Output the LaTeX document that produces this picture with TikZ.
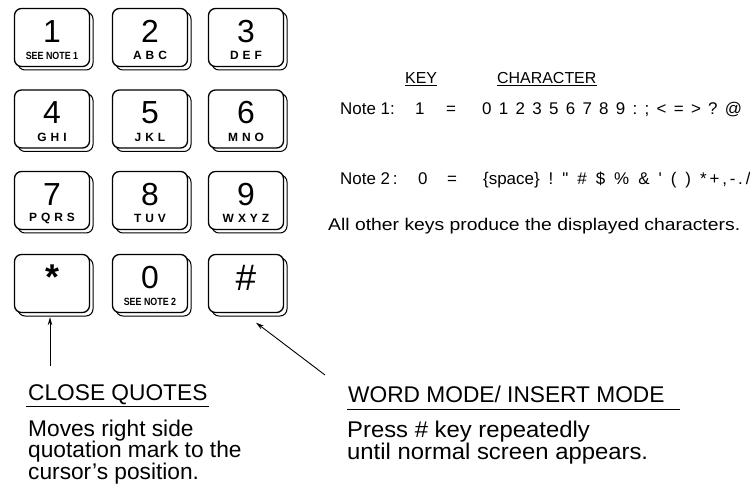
\documentclass[tikz,border=0pt]{standalone}
\usepackage{fontspec}
\setmainfont{Liberation Sans}
\usetikzlibrary{shadows,calc,arrows.meta}
\newcommand\fsz[1]{\fontsize{#1}{#1}\selectfont}
\newcommand\lsp{\hspace{4bp}}
\newcommand\csp{\hspace{7.3bp}}
\newcommand\dsp{\hspace{9bp}}
\begin{document}
\begin{tikzpicture}[x=1bp,y=-1bp,
  key/.style={draw, fill=white, rounded corners=7bp, minimum width=75bp,
    minimum height=58bp, line width=1.3bp, inner sep=0pt,
    general shadow={shadow xshift=3.5bp, shadow yshift=-3.5bp, draw, fill=white, line width=1bp}},
  digit/.style={font=\fsz{32}, inner sep=0pt},
  sub/.style={font=\fsz{12}\bfseries, inner sep=0pt},
  note/.style={font=\fsz{10.5}\bfseries, inner sep=0pt},
  txt/.style={anchor=base west, inner sep=0pt, font=\fsz{22.8}},
  small/.style={anchor=base west, inner sep=0pt, font=\fsz{17}},
  hdr/.style={anchor=base west, inner sep=0pt, font=\fsz{16}},
  arr/.style={line width=0.9bp, -{Stealth[length=8bp,width=4.5bp]}},
  uline/.style={line width=1bp}]
\useasboundingbox (0,0) rectangle (750,487);

% keypad
\node[key] (k1) at (52,37.5) {};
\node[digit] (d1) at ($(k1.center)+(0,-6)$) {1};
\node[note] (s1) at ($(k1.center)+(0,18)$) {\scalebox{0.85}[1]{SEE NOTE 1}};

\node[key] (k2) at (150,37.5) {};
\node[digit] (d2) at ($(k2.center)+(0,-6)$) {2};
\node[sub] (s2) at ($(k2.center)+(0,18)$) {A\lsp B\lsp C};

\node[key] (k3) at (246,37.5) {};
\node[digit] (d3) at ($(k3.center)+(0,-6)$) {3};
\node[sub] (s3) at ($(k3.center)+(0,18)$) {D\lsp E\lsp F};

\node[key] (k4) at (52,119) {};
\node[digit] (d4) at ($(k4.center)+(0,-6)$) {4};
\node[sub] (s4) at ($(k4.center)+(0,18)$) {G\lsp H\lsp I};

\node[key] (k5) at (150,119) {};
\node[digit] (d5) at ($(k5.center)+(0,-6)$) {5};
\node[sub] (s5) at ($(k5.center)+(0,18)$) {J\lsp K\lsp L};

\node[key] (k6) at (246,119) {};
\node[digit] (d6) at ($(k6.center)+(0,-6)$) {6};
\node[sub] (s6) at ($(k6.center)+(0,18)$) {M\lsp N\lsp O};

\node[key] (k7) at (52,200.5) {};
\node[digit] (d7) at ($(k7.center)+(0,-6)$) {7};
\node[sub] (s7) at ($(k7.center)+(0,18)$) {P\lsp Q\lsp R\lsp S};

\node[key] (k8) at (150,200.5) {};
\node[digit] (d8) at ($(k8.center)+(0,-6)$) {8};
\node[sub] (s8) at ($(k8.center)+(0,18)$) {T\lsp U\lsp V};

\node[key] (k9) at (246,200.5) {};
\node[digit] (d9) at ($(k9.center)+(0,-6)$) {9};
\node[sub] (s9) at ($(k9.center)+(0,18)$) {W\lsp X\lsp Y\lsp Z};

\node[key] (kstar) at (52,283.5) {};
\node[digit, font=\fsz{36}\bfseries] (dstar) at ($(kstar.center)+(0,-6)$) {*};

\node[key] (k0) at (150,283.5) {};
\node[digit] (d0) at ($(k0.center)+(0,-6)$) {0};
\node[note] (s0) at ($(k0.center)+(0,18)$) {\scalebox{0.85}[1]{SEE NOTE 2}};

\node[key] (khash) at (246,283.5) {};
\node[digit, font=\fsz{37}\itshape] (dhash) at ($(khash.center)+(0,-6)$) {\#};

% right table
\node[hdr] (keyh) at (405,84) {KEY};
\node[hdr] (charh) at (497,84) {CHARACTER};
\draw[uline] ($(keyh.base west)+(0,2)$) -- ($(keyh.base east)+(0,2)$);
\draw[uline] ($(charh.base west)+(0,2)$) -- ($(charh.base east)+(0,2)$);

\node[small] (n1a) at (340,115) {Note 1:};
\node[small] (n1b) at (415,115) {1};
\node[small] (n1c) at (446,115) {=};
\node[small] (n1d) at (482,115) {0\csp1\csp2\csp3\csp5\csp6\csp7\csp8\csp9\csp:\csp;\csp<\csp=\csp>\csp?\csp@};

\node[small] (n2a) at (340,185) {Note 2\,:};
\node[small] (n2b) at (418,185) {0};
\node[small] (n2c) at (447,185) {=};
\node[small] (n2d) at (483,185) {\{space\}\dsp!\dsp\textquotedbl\dsp\#\dsp\$\dsp\%\dsp\&\dsp\textquotesingle\dsp(\dsp)\dsp*\,+\,,\,-\,.\,/};

\node[small] (n3) at (328,231) {\resizebox{412bp}{\height}{All other keys produce the displayed characters.}};

% bottom notes
\node[txt] (cq) at (28,400) {CLOSE QUOTES};
\draw[uline] ($(cq.base west)+(-2,6)$) -- ($(cq.base east)+(1,6)$);
\node[txt] (cq1) at (28,436) {Moves right side};
\node[txt] (cq2) at (28,457) {quotation mark to the};
\node[txt] (cq3) at (28,479) {cursor’s position.};

\node[txt] (wm) at (348,402) {WORD MODE/ INSERT MODE};
\draw[uline] ($(wm.base west)+(-1,7)$) -- ($(wm.base east)+(15,7)$);
\node[txt] (wm1) at (347,437) {\scalebox{1.05}[1]{Press \# key repeatedly}};
\node[txt] (wm2) at (347,459) {\scalebox{1.05}[1]{until normal screen appears.}};

% arrows
\coordinate (startail) at (50,366);
\coordinate (hashtail) at (325,375);
\draw[arr] (startail) -- ($(kstar.south)+(-2,4)$);
\draw[arr] (hashtail) -- ($(khash.south)+(10,9.5)$);
\end{tikzpicture}
\end{document}
